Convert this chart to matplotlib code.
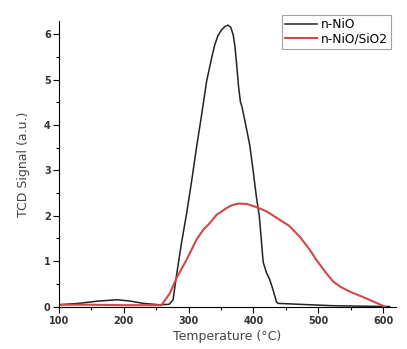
import numpy as np
import matplotlib.pyplot as plt
from matplotlib.ticker import MultipleLocator

# n-NiO TPR profile
nio_t = [100, 130, 160, 190, 210, 230, 255, 270, 276, 281, 289, 297, 304.5, 312,
         320, 327.7, 335.4, 340, 345, 350, 356, 361, 365, 368.7, 371.3, 374, 377, 380,
         382, 386.7, 394.4, 399.5, 404.7, 409, 412, 415, 420, 425, 430, 435.6,
         438, 470, 520, 560, 610]
nio_s = [0.04, 0.07, 0.12, 0.15, 0.12, 0.07, 0.04, 0.05, 0.15, 0.66, 1.4, 2.06, 2.75,
         3.49, 4.22, 4.96, 5.47, 5.75, 5.96, 6.08, 6.17, 6.2, 6.15, 5.99, 5.75, 5.35,
         4.85, 4.5, 4.42, 4.1, 3.55, 3.0, 2.4, 2.0, 1.5, 0.98, 0.75, 0.6, 0.38, 0.1,
         0.07, 0.05, 0.02, 0.01, 0.0]

# n-NiO/SiO2 TPR profile
sio_t = [100, 150, 200, 240, 258, 271, 281.4, 296.8, 312, 322.5, 332.8, 343, 358.5,
         368, 378, 390, 404.7, 420, 440.7, 455, 471.5, 487, 497, 510, 523, 535,
         548.6, 574, 602.5]
sio_s = [0.04, 0.04, 0.03, 0.03, 0.03, 0.29, 0.63, 1.03, 1.47, 1.69, 1.84, 2.02, 2.17,
         2.24, 2.27, 2.26, 2.19, 2.1, 1.91, 1.78, 1.54, 1.25, 1.03, 0.78, 0.55, 0.43,
         0.33, 0.18, 0.0]

fig = plt.figure(figsize=(4.07, 3.49), dpi=100)
ax = fig.add_axes([0.145, 0.119, 0.828, 0.822])
ax.plot(nio_t, nio_s, color='#222222', lw=1.1, label='n-NiO')
ax.plot(sio_t, sio_s, color='#d04848', lw=1.5, label='n-NiO/SiO2')

ax.set_xlim(100, 620)
ax.set_ylim(-0.02, 6.3)
ax.spines['top'].set_visible(False)
ax.spines['right'].set_visible(False)
ax.xaxis.set_major_locator(MultipleLocator(100))
ax.xaxis.set_minor_locator(MultipleLocator(50))
ax.yaxis.set_major_locator(MultipleLocator(1))
ax.yaxis.set_minor_locator(MultipleLocator(0.5))
ax.tick_params(which='major', length=4, width=0.8, labelsize=7, pad=2)
ax.tick_params(which='minor', length=2, width=0.8)
for lbl in ax.get_xticklabels() + ax.get_yticklabels():
    lbl.set_fontweight('bold')
    lbl.set_color('#333333')

ax.set_xlabel('Temperature (°C)', fontsize=9, color='#444444', labelpad=3)
ax.set_ylabel('TCD Signal (a.u.)', fontsize=9, color='#444444', labelpad=10)

leg = ax.legend(loc='upper right', bbox_to_anchor=(0.975, 0.975),
                bbox_transform=fig.transFigure, fontsize=8.8, frameon=True,
                fancybox=False, handlelength=2.6, borderpad=0.25,
                labelspacing=0.15, handletextpad=0.3)
leg.get_frame().set_edgecolor('#888888')
leg.get_frame().set_linewidth(0.8)

fig.savefig('out.png', dpi=100)
